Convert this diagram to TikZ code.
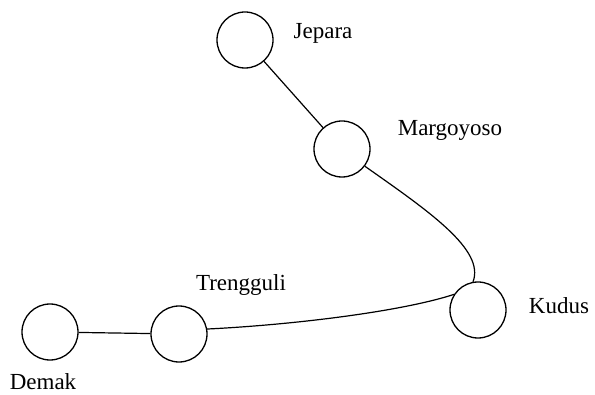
\documentclass[tikz,border=0pt]{standalone}
\usepackage{fontspec}
\setmainfont{Liberation Serif}
\begin{document}
\begin{tikzpicture}[x=1pt,y=-1pt,
  town/.style={draw,circle,line width=1.3pt,minimum size=56pt,inner sep=0pt},
  lbl/.style={font=\fontsize{23}{26}\selectfont,inner sep=0pt},
  road/.style={line width=1.2pt}]
\useasboundingbox (0,0) rectangle (595,395);
\node[town] (jep) at (245,40) {};
\node[town] (mar) at (342,149) {};
\node[town] (kud) at (478,310) {};
\node[town] (tre) at (179,334) {};
\node[town] (dem) at (50,332) {};
\node[lbl] (ljep) at (323,33) {Jepara};
\node[lbl] (lmar) at (450,130) {Margoyoso};
\node[lbl] (lkud) at (559,306) {Kudus};
\node[lbl] (ltre) at (241,285) {Trengguli};
\node[lbl] (ldem) at (43,382) {Demak};
\draw[road] (jep) -- (mar);
\draw[road] (mar.-37) .. controls (430,212) and (485,250) .. (kud.100);
\draw[road] (tre.10) .. controls (290,325) and (400,312) .. (kud.147);
\draw[road] (dem) -- (tre);
\end{tikzpicture}
\end{document}
